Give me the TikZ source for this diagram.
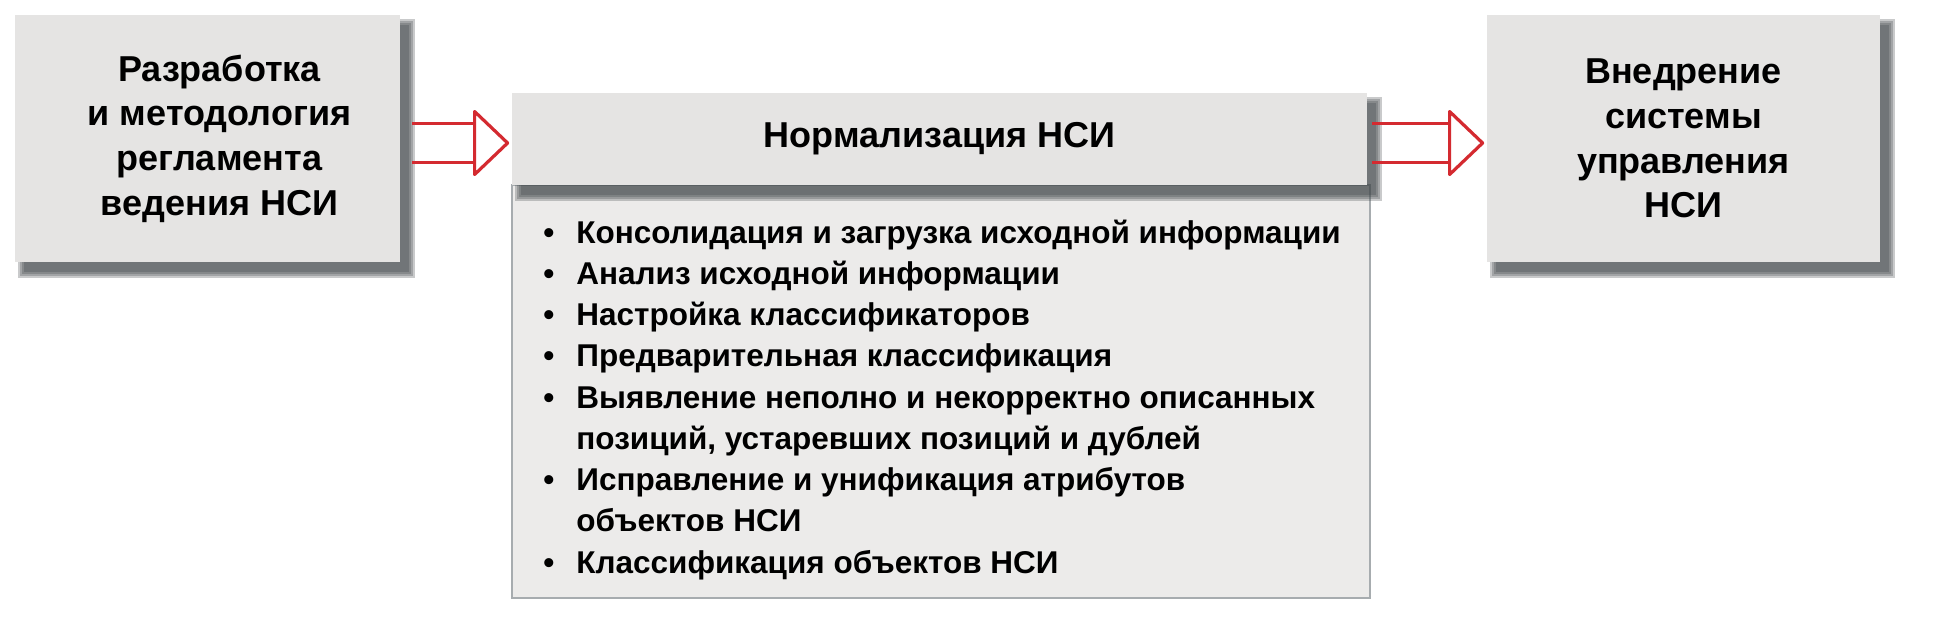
\documentclass[tikz,border=0pt]{standalone}
\usepackage{fontspec}
\setmainfont{Liberation Sans}
\usetikzlibrary{calc}
\definecolor{boxfill}{HTML}{E5E4E3}
\definecolor{bodyfill}{HTML}{ECEBEA}
\definecolor{bodyline}{HTML}{A7ACAF}
\definecolor{shadowc}{HTML}{3E4447}
\definecolor{arrred}{HTML}{D42A30}
\pgfdeclarelayer{back}
\pgfdeclarelayer{shade}
\pgfsetlayers{back,shade,main}
\newcommand{\mkshadow}[1]{%
  \begin{pgfonlayer}{shade}
    \foreach \e in {0,2,4,6}{
      \fill[shadowc,opacity=0.28] ($(#1.north west)+(9-\e,10-\e)$) rectangle ($(#1.south east)+(9+\e,10+\e)$);
    }
  \end{pgfonlayer}}
\tikzset{
  boxtext/.style={font=\bfseries\fontsize{18}{22.35}\selectfont, align=center, text=black, inner sep=0pt},
  sidebox/.style={rectangle, inner sep=0pt, fill=boxfill, boxtext},
  headbox/.style={rectangle, inner sep=0pt, fill=boxfill, boxtext},
  bodybox/.style={rectangle, inner sep=0pt, fill=bodyfill, draw=bodyline, line width=0.75pt},
  itemtext/.style={anchor=base west, inner sep=0pt, font=\bfseries\fontsize{15.75}{20.6}\selectfont, text=black},
  hollowarr/.style={draw=arrred, line width=1.6pt, line join=round},
}
\newcommand{\bul}{\makebox[16.5pt][l]{•}}
\begin{document}
\begin{tikzpicture}[x=0.5pt,y=-0.5pt]
\useasboundingbox (0,0) rectangle (1935,634);
\begin{pgfonlayer}{back}
  \fill[white] (0,0) rectangle (1935,634);
  \node[bodybox, minimum width=429pt, minimum height=206.5pt] (B) at (941,391.5) {};
\end{pgfonlayer}

\node[sidebox, minimum width=192.5pt, minimum height=123.5pt] (L) at (207.5,138.5) {};
\node[boxtext] (Lt) at ($(L.center)+(12,0)$)
  {Разработка\\и методология\\регламента\\ведения НСИ};
\node[sidebox, minimum width=196.5pt, minimum height=123.5pt] (R) at (1683.5,138.5)
  {Внедрение\\системы\\управления\\НСИ};
\node[headbox, minimum width=427.5pt, minimum height=46pt] (M) at (939.5,139)
  {Нормализация НСИ};
\mkshadow{L}
\mkshadow{R}
\mkshadow{M}

\node[itemtext] (i1) at (543,243)    {\bul Консолидация и загрузка исходной информации};
\node[itemtext] (i2) at (543,284.25) {\bul Анализ исходной информации};
\node[itemtext] (i3) at (543,325.5)  {\bul Настройка классификаторов};
\node[itemtext] (i4) at (543,366.75) {\bul Предварительная классификация};
\node[itemtext] (i5) at (543,408)    {\bul Выявление неполно и некорректно описанных};
\node[itemtext] (i6) at (576,449.25) {позиций, устаревших позиций и дублей};
\node[itemtext] (i7) at (543,490.5)  {\bul Исправление и унификация атрибутов};
\node[itemtext] (i8) at (576,531.75) {объектов НСИ};
\node[itemtext] (i9) at (543,573)    {\bul Классификация объектов НСИ};

% left hollow arrow
\coordinate (s1) at ($(L.east)+(12,4.5)$);
\coordinate (t1) at ($(M.west)+(-4,4)$);
\draw[hollowarr] ($(s1)+(0,-19.5)$) -- ($(t1)+(-33,-19.5)$);
\draw[hollowarr] ($(s1)+(0,19.5)$) -- ($(t1)+(-33,19.5)$);
\draw[hollowarr] ($(t1)+(-33,-31.5)$) -- (t1) -- ($(t1)+(-33,31.5)$) -- cycle;

% right hollow arrow
\coordinate (s2) at ($(M.east)+(5,4)$);
\coordinate (t2) at ($(R.west)+(-4,4.5)$);
\draw[hollowarr] ($(s2)+(0,-19.5)$) -- ($(t2)+(-33,-19.5)$);
\draw[hollowarr] ($(s2)+(0,19.5)$) -- ($(t2)+(-33,19.5)$);
\draw[hollowarr] ($(t2)+(-33,-31.5)$) -- (t2) -- ($(t2)+(-33,31.5)$) -- cycle;
\end{tikzpicture}
\end{document}
